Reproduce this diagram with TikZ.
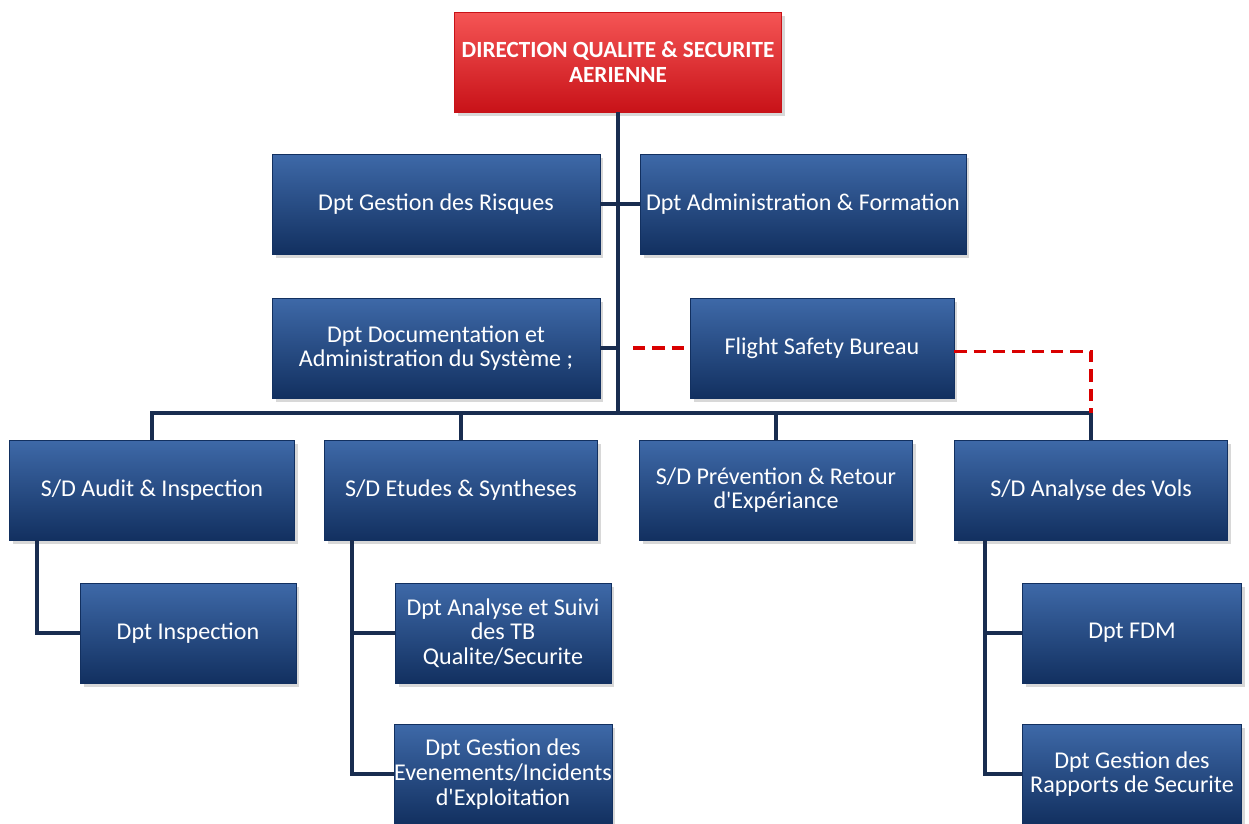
\documentclass[tikz,border=0pt]{standalone}
\usepackage{fontspec}
\setmainfont{Carlito}
\usepackage{xcolor}
\usepackage{tikz}
\usetikzlibrary{positioning,shadows}

\definecolor{boxtop}{RGB}{62,105,168}
\definecolor{boxmid}{RGB}{28,68,128}
\definecolor{boxbot}{RGB}{18,48,96}
\definecolor{redtop}{RGB}{245,85,85}
\definecolor{redmid}{RGB}{232,28,36}
\definecolor{redbot}{RGB}{200,18,24}
\definecolor{linkcol}{RGB}{25,45,80}

\begin{document}
\begin{tikzpicture}[
    x=0.02cm, y=-0.02cm,
    box/.style={draw=boxbot, top color=boxtop, middle color=boxmid, bottom color=boxbot,
                minimum height=2cm, inner sep=0pt, align=center, text=white,
                font=\fontsize{13.7}{14}\selectfont,
                drop shadow={shadow xshift=2pt, shadow yshift=-2pt, fill=gray!60}},
    head/.style={box, draw=redbot, top color=redtop, middle color=redmid, bottom color=redbot,
                 font=\bfseries\fontsize{13.2}{14}\selectfont},
    link/.style={draw=linkcol, line width=2pt},
    redlink/.style={draw=red!85!black, line width=2pt, dash pattern=on 7pt off 4pt}
  ]
  \useasboundingbox (0,0) rectangle (1249,823);
  % Head of the chart.
  \node[head, minimum width=6.54cm] (top) at (618,62) {DIRECTION QUALITE \& SECURITE\\AERIENNE};
  % Departments attached to the direction.
  \node[box, minimum width=6.56cm] (risques) at (436,204) {Dpt Gestion des Risques};
  \node[box, minimum width=6.52cm] (admin)   at (803,204) {Dpt Administration \& Formation};
  \node[box, minimum width=6.56cm] (doc)     at (436,348) {Dpt Documentation et\\Administration du Système ;};
  \node[box, minimum width=5.28cm] (fsb)     at (822,348) {Flight Safety Bureau};
  % Sub-directions.
  \node[box, minimum width=5.7cm]  (audit)  at (152,490)  {S/D Audit \& Inspection};
  \node[box, minimum width=5.46cm] (etudes) at (461,490)  {S/D Etudes \& Syntheses};
  \node[box, minimum width=5.46cm] (prev)   at (776,490)  {S/D Prévention \& Retour\\d\textquotesingle Expériance};
  \node[box, minimum width=5.46cm] (vols)   at (1091,490) {S/D Analyse des Vols};
  % Departments under the sub-directions.
  \node[box, minimum width=4.32cm] (insp)  at (188,633)  {Dpt Inspection};
  \node[box, minimum width=4.32cm] (suivi) at (503,633)  {Dpt Analyse et Suivi\\des TB\\Qualite/Securite};
  \node[box, minimum width=4.32cm] (evt)   at (503,774)  {Dpt Gestion des\\Evenements/Incidents\\d\textquotesingle Exploitation};
  \node[box, minimum width=4.38cm] (fdm)   at (1132,633) {Dpt FDM};
  \node[box, minimum width=4.38cm] (rapp)  at (1132,774) {Dpt Gestion des\\Rapports de Securite};

  \coordinate (bus) at (618,413);
  \coordinate (ta) at (37,540);
  \coordinate (te) at (352,540);
  \coordinate (tv) at (985,540);

  % Main trunk and bus.
  \draw[link] (top.south) -- (top.south |- bus);
  \draw[link] (risques.east) -- (risques.east -| top.south);
  \draw[link] (admin.west) -- (admin.west -| top.south);
  \draw[link] (doc.east) -- (doc.east -| top.south);
  \draw[link] (audit.north) -- (audit.north |- bus) -- (vols.north |- bus) -- (vols.north);
  \draw[link] (etudes.north) -- (etudes.north |- bus);
  \draw[link] (prev.north) -- (prev.north |- bus);
  % Branches under the sub-directions.
  \draw[link] (ta) |- (insp.west);
  \draw[link] (te) |- (evt.west);
  \draw[link] (te |- suivi.west) -- (suivi.west);
  \draw[link] (tv) |- (rapp.west);
  \draw[link] (tv |- fdm.west) -- (fdm.west);
  % Functional link of the flight safety bureau.
  \draw[redlink] ([xshift=0.3cm]doc.east -| top.south) -- (fsb.west);
  \draw[redlink] ([yshift=-2pt]fsb.east) -| (vols.north |- bus);
\end{tikzpicture}
\end{document}
